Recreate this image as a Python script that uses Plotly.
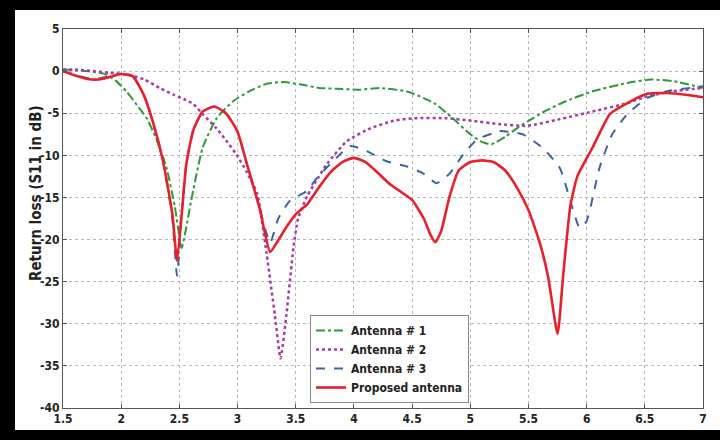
import plotly.graph_objects as go

# ---- data ----
x_ant1 = [1.5,1.7,1.85,1.95,2.05,2.15,2.22,2.3,2.39,2.46,2.52,2.56,2.6,2.7,2.82,2.96,3.1,3.25,3.4,3.55,3.7,3.85,4.05,4.22,4.45,4.6,4.7,4.85,5.0,5.1,5.18,5.3,5.4,5.5,5.65,5.8,6.05,6.35,6.55,6.75,7.0]
y_ant1 = [0.2,0,-0.3,-1.1,-2.5,-4.3,-5.6,-8,-11.5,-16,-21,-18.5,-15.5,-9.1,-5.6,-3.6,-2.4,-1.5,-1.3,-1.6,-2.0,-2.1,-2.2,-2.0,-2.4,-3.2,-3.9,-5.6,-7.5,-8.4,-8.7,-7.8,-6.8,-5.9,-4.7,-3.7,-2.4,-1.4,-1.0,-1.2,-2.0]

x_ant2 = [1.5,1.6,1.76,1.9,2.05,2.2,2.33,2.45,2.55,2.62,2.7,2.82,2.9,2.99,3.08,3.17,3.25,3.32,3.37,3.42,3.48,3.52,3.6,3.7,3.77,3.94,4.14,4.34,4.51,4.8,5.02,5.25,5.49,5.77,6.05,6.35,6.52,6.74,7.0]
y_ant2 = [0.2,0.2,0,-0.2,-0.4,-1.0,-2.0,-2.8,-3.4,-3.9,-5.1,-6.8,-8.2,-9.9,-12,-14.6,-21.7,-28.9,-34.1,-28.9,-21,-17.5,-14.8,-12.5,-11,-8.3,-6.8,-5.9,-5.6,-5.6,-5.9,-6.3,-6.5,-5.7,-4.8,-3.8,-3.0,-2.4,-2.0]

x_ant3 = [1.5,1.6,1.7,1.8,1.9,2.0,2.1,2.19,2.27,2.36,2.44,2.48,2.52,2.56,2.62,2.7,2.8,2.9,3.0,3.08,3.19,3.28,3.35,3.45,3.6,3.68,3.85,3.97,4.11,4.28,4.45,4.59,4.71,4.82,4.94,5.06,5.19,5.25,5.45,5.62,5.77,5.86,5.94,6.0,6.11,6.22,6.35,6.52,6.69,7.0]
y_ant3 = [0,-0.4,-0.8,-0.9,-0.6,-0.3,-0.7,-2.7,-5.9,-10.7,-17.5,-24.3,-17,-11,-7,-4.8,-4.2,-5,-7.2,-11,-16.3,-20.4,-17.5,-15.4,-14.2,-12.7,-10.3,-8.9,-9.5,-10.7,-11.3,-12.1,-13.3,-12.2,-9.9,-8.1,-7.4,-7.1,-7.5,-9.1,-11.5,-15.4,-18.6,-17.8,-11.5,-7.5,-5.1,-3.2,-2.4,-1.8]

x_prop = [1.5,1.6,1.7,1.8,1.9,2.0,2.1,2.19,2.27,2.36,2.44,2.48,2.52,2.56,2.62,2.7,2.8,2.9,3.0,3.08,3.19,3.28,3.34,3.42,3.5,3.6,3.7,3.8,3.9,4.0,4.1,4.2,4.3,4.4,4.5,4.6,4.66,4.7,4.75,4.82,4.9,5.0,5.1,5.2,5.3,5.4,5.5,5.6,5.67,5.75,5.8,5.86,5.92,6.05,6.2,6.35,6.52,6.69,6.85,7.0]
y_prop = [0,-0.5,-0.9,-1.0,-0.7,-0.35,-0.6,-2.7,-5.9,-10.7,-17,-22.5,-17,-11,-7,-4.8,-4.2,-5,-7.2,-11,-16.3,-21.5,-20.3,-18.5,-17,-15.8,-13.8,-12,-10.8,-10.3,-10.8,-12,-13.3,-14.3,-15.3,-17.5,-19.5,-20.3,-19,-15,-11.8,-10.8,-10.6,-10.8,-11.8,-13.8,-16.5,-20.5,-24.5,-31.2,-24,-16,-12.5,-9.1,-5.1,-3.8,-2.7,-2.6,-2.8,-3.1]

names = ["Antenna # 1", "Antenna # 2", "Antenna # 3", "Proposed antenna"]
x_ticks = [1.5,2,2.5,3,3.5,4,4.5,5,5.5,6,6.5,7]
y_ticks = [5,0,-5,-10,-15,-20,-25,-30,-35,-40]

FONT = "DejaVu Sans Condensed, Liberation Sans Narrow, Liberation Sans, Arial, sans-serif"

fig = go.Figure()
fig.add_trace(go.Scatter(x=x_ant1, y=y_ant1, name=names[0], mode="lines",
                         line=dict(color="#2f9a3a", width=2, dash="dashdot", shape="spline", smoothing=0.5)))
fig.add_trace(go.Scatter(x=x_ant2, y=y_ant2, name=names[1], mode="lines",
                         line=dict(color="#a63aa8", width=2.5, dash="dot", shape="spline", smoothing=0.5)))
fig.add_trace(go.Scatter(x=x_ant3, y=y_ant3, name=names[2], mode="lines",
                         line=dict(color="#3f62a8", width=2, dash="dash", shape="spline", smoothing=0.5)))
fig.add_trace(go.Scatter(x=x_prop, y=y_prop, name=names[3], mode="lines",
                         line=dict(color="#e8202c", width=2.6, shape="spline", smoothing=0.5)))

axis_common = dict(showline=True, linecolor="#555555", linewidth=1, mirror="ticks",
                   ticks="inside", ticklen=4, tickcolor="#555555",
                   showgrid=True, gridcolor="#b8b8b8", griddash="dot", gridwidth=1,
                   zeroline=False,
                   tickfont=dict(family=FONT, size=12, color="#222222", weight="bold"))

fig.update_xaxes(range=[1.5, 7], tickvals=x_ticks, ticktext=[str(v) for v in x_ticks], **axis_common)
fig.update_yaxes(range=[-40, 5], tickvals=y_ticks, ticktext=[str(v) for v in y_ticks], **axis_common)

W, H = 720, 440
L, R, T, B = 63, 17, 29, 32
pw, ph = W - L - R, H - T - B

def px(xp):
    return (xp - L) / pw

def py(yp):
    return (H - B - yp) / ph

shapes = [
    dict(type="rect", xref="paper", yref="paper", x0=px(0), x1=px(15), y0=py(440), y1=py(0),
         fillcolor="black", line=dict(width=0), layer="above"),
    dict(type="rect", xref="paper", yref="paper", x0=px(0), x1=px(720), y0=py(10), y1=py(0),
         fillcolor="black", line=dict(width=0), layer="above"),
    dict(type="rect", xref="paper", yref="paper", x0=px(0), x1=px(720), y0=py(440), y1=py(430),
         fillcolor="black", line=dict(width=0), layer="above"),
]

fig.update_layout(
    width=W, height=H,
    margin=dict(l=L, r=R, t=T, b=B),
    paper_bgcolor="white", plot_bgcolor="white",
    shapes=shapes,
    showlegend=True,
    legend=dict(x=px(310), y=py(315), xanchor="left", yanchor="top",
                bgcolor="white", bordercolor="#888888", borderwidth=1,
                font=dict(family=FONT, size=12, color="#222222", weight="bold"),
                tracegroupgap=0, itemwidth=30),
    annotations=[dict(text="Return loss (S11 in dB)", xref="paper", yref="paper",
                      x=px(25), y=py(193), textangle=-90, showarrow=False,
                      font=dict(family=FONT, size=15, color="#222222", weight="bold"))],
)

fig.write_html("out.html", config={"displayModeBar": False},
               post_script=("document.documentElement.style.overflow='hidden';"
                            "document.documentElement.style.background='white';"
                            "document.body.style.margin='0';document.body.style.overflow='hidden';"
                            "document.body.style.background='white';"))
